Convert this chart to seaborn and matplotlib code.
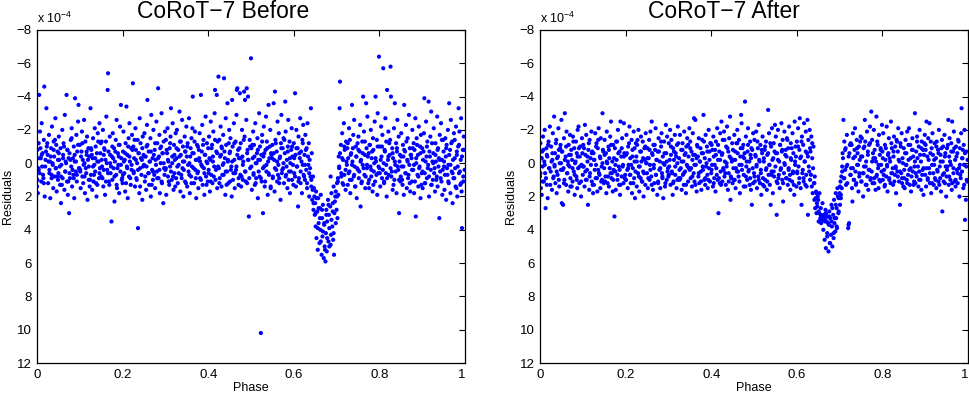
import numpy as np
import pandas as pd
import matplotlib
matplotlib.use("Agg")
import matplotlib.pyplot as plt
import seaborn as sns

# phase in 1/1000, residual in units of 1e-5
before_phase = [
    0, 1, 2, 3, 4, 5, 6, 7, 9, 10, 11, 12, 13, 15, 16, 17, 18, 20, 22, 23,
    25, 26, 28, 29, 30, 31, 33, 34, 35, 36, 38, 39, 40, 41, 43, 44, 45, 46, 48, 49,
    50, 51, 52, 54, 55, 56, 57, 59, 60, 61, 62, 64, 65, 66, 67, 69, 70, 71, 72, 74,
    75, 76, 77, 79, 80, 81, 82, 84, 85, 86, 87, 88, 89, 91, 92, 93, 94, 96, 97, 98,
    100, 101, 102, 104, 105, 106, 107, 108, 110, 111, 112, 113, 115, 116, 117, 118, 120, 121, 122, 124,
    125, 126, 127, 129, 130, 131, 132, 134, 135, 136, 137, 139, 140, 141, 142, 144, 145, 146, 147, 149,
    150, 151, 152, 154, 155, 156, 157, 159, 160, 161, 162, 164, 165, 166, 167, 169, 170, 171, 172, 174,
    175, 176, 177, 179, 180, 181, 182, 184, 185, 186, 187, 189, 190, 191, 192, 194, 195, 196, 197, 199,
    200, 201, 202, 204, 205, 206, 207, 209, 210, 211, 212, 214, 215, 216, 217, 219, 220, 221, 222, 224,
    225, 226, 227, 229, 230, 231, 232, 234, 235, 236, 237, 239, 240, 241, 242, 244, 245, 246, 247, 249,
    250, 251, 252, 254, 255, 256, 257, 258, 260, 261, 262, 264, 265, 266, 267, 269, 270, 271, 272, 274,
    275, 276, 277, 279, 280, 281, 283, 284, 285, 286, 287, 289, 290, 291, 292, 294, 295, 296, 297, 299,
    300, 301, 302, 304, 305, 306, 307, 309, 310, 311, 312, 313, 315, 316, 317, 319, 320, 321, 322, 324,
    325, 326, 327, 329, 330, 331, 333, 334, 335, 336, 337, 339, 340, 341, 342, 344, 345, 346, 347, 349,
    350, 351, 352, 354, 355, 356, 357, 359, 360, 361, 362, 363, 364, 366, 367, 369, 370, 371, 372, 374,
    375, 376, 377, 379, 380, 381, 383, 384, 385, 386, 387, 389, 390, 391, 392, 394, 395, 396, 397, 399,
    400, 401, 402, 404, 405, 406, 407, 409, 410, 411, 412, 414, 415, 416, 417, 419, 420, 421, 422, 424,
    425, 426, 427, 429, 430, 431, 432, 434, 435, 436, 437, 439, 440, 441, 442, 444, 445, 446, 447, 449,
    450, 451, 452, 454, 455, 456, 457, 459, 460, 461, 462, 464, 465, 466, 467, 468, 470, 471, 472, 474,
    475, 476, 477, 479, 480, 481, 482, 484, 485, 486, 487, 489, 490, 491, 492, 493, 494, 495, 497, 498,
    500, 501, 502, 504, 505, 506, 507, 509, 510, 511, 512, 514, 515, 516, 517, 519, 520, 521, 523, 524,
    525, 526, 528, 529, 530, 531, 532, 534, 535, 536, 537, 539, 540, 541, 542, 544, 545, 546, 547, 549,
    550, 551, 553, 554, 555, 556, 557, 559, 560, 561, 562, 564, 565, 566, 567, 569, 570, 571, 572, 574,
    575, 576, 577, 579, 580, 581, 582, 584, 585, 586, 587, 589, 590, 591, 592, 594, 595, 596, 597, 599,
    600, 601, 603, 604, 605, 606, 607, 609, 610, 611, 612, 614, 615, 616, 617, 619, 620, 621, 622, 624,
    625, 626, 627, 629, 630, 631, 632, 634, 635, 636, 637, 639, 640, 641, 642, 643, 645, 646, 647, 649,
    650, 651, 652, 653, 655, 656, 657, 658, 660, 661, 662, 663, 665, 666, 667, 668, 670, 671, 672, 674,
    675, 676, 677, 678, 680, 681, 682, 683, 685, 686, 687, 688, 690, 691, 692, 693, 694, 695, 697, 698,
    700, 701, 702, 703, 704, 705, 706, 707, 708, 710, 711, 713, 714, 715, 717, 718, 719, 721, 722, 724,
    725, 726, 727, 729, 730, 731, 732, 734, 735, 736, 737, 739, 740, 741, 742, 744, 745, 746, 747, 749,
    750, 751, 752, 754, 755, 756, 757, 759, 760, 761, 762, 764, 765, 766, 767, 769, 770, 771, 772, 774,
    775, 776, 777, 779, 780, 781, 782, 784, 785, 786, 787, 789, 790, 791, 792, 794, 795, 796, 797, 799,
    800, 801, 802, 804, 805, 806, 807, 809, 810, 811, 812, 814, 815, 816, 817, 818, 820, 821, 822, 824,
    825, 826, 827, 829, 830, 831, 832, 834, 835, 836, 837, 839, 840, 841, 842, 844, 845, 846, 847, 849,
    850, 851, 852, 854, 855, 856, 857, 858, 860, 861, 862, 864, 865, 866, 867, 869, 870, 871, 872, 874,
    875, 876, 877, 879, 880, 881, 882, 884, 885, 886, 887, 889, 890, 891, 892, 894, 895, 896, 897, 899,
    900, 901, 902, 904, 905, 906, 907, 909, 910, 911, 912, 914, 915, 916, 917, 919, 920, 921, 922, 924,
    925, 926, 927, 929, 930, 931, 932, 934, 935, 936, 937, 939, 940, 941, 942, 944, 945, 946, 947, 949,
    950, 951, 952, 954, 955, 956, 957, 959, 960, 961, 962, 963, 965, 966, 967, 969, 970, 971, 972, 974,
    975, 976, 977, 979, 980, 981, 982, 984, 985, 986, 987, 989, 990, 991, 992, 993, 995, 996, 997, 999,
    # denser core of the band
    1, 4, 6, 8, 11, 14, 16, 19, 21, 24, 27, 29, 32, 34, 37, 39, 42, 44, 47, 49,
    51, 53, 56, 58, 61, 63, 66, 68, 71, 73, 76, 78, 81, 83, 86, 88, 91, 93, 96, 99,
    101, 103, 106, 109, 111, 114, 116, 119, 121, 123, 126, 128, 131, 133, 136, 138, 141, 143, 146, 148,
    151, 153, 156, 158, 161, 163, 166, 168, 171, 173, 176, 178, 181, 183, 186, 188, 191, 193, 196, 198,
    201, 203, 206, 208, 211, 213, 216, 218, 221, 223, 226, 228, 231, 233, 236, 238, 241, 243, 246, 248,
    251, 253, 256, 258, 261, 263, 266, 268, 271, 273, 276, 278, 281, 283, 286, 288, 291, 293, 296, 298,
    301, 303, 306, 308, 311, 313, 316, 318, 321, 323, 326, 328, 331, 333, 336, 338, 341, 343, 346, 348,
    351, 353, 356, 358, 361, 363, 366, 368, 371, 373, 376, 378, 381, 383, 386, 388, 391, 393, 396, 398,
    401, 403, 406, 408, 411, 413, 416, 418, 421, 423, 426, 428, 431, 433, 436, 438, 441, 443, 446, 448,
    451, 453, 456, 458, 461, 463, 466, 468, 471, 473, 476, 478, 481, 483, 486, 488, 491, 493, 496, 498,
    501, 503, 506, 508, 511, 513, 516, 518, 521, 523, 526, 528, 531, 533, 536, 538, 541, 543, 546, 548,
    551, 553, 556, 558, 561, 563, 566, 568, 571, 573, 576, 578, 581, 583, 586, 588, 591, 593, 596, 598,
    601, 603, 606, 608, 611, 613, 616, 618, 621, 623, 626, 628, 631, 633, 636, 638, 641, 644, 646, 648,
    651, 653, 656, 658, 661, 663, 666, 668, 671, 673, 676, 678, 681, 683, 686, 688, 691, 693, 696, 698,
    701, 703, 706, 708, 711, 713, 716, 718, 721, 723, 726, 728, 731, 733, 736, 738, 741, 743, 746, 748,
    751, 753, 756, 758, 761, 763, 766, 768, 771, 773, 776, 778, 781, 783, 786, 788, 791, 793, 796, 798,
    801, 803, 806, 808, 811, 813, 816, 818, 821, 823, 826, 828, 831, 833, 836, 838, 841, 843, 846, 848,
    851, 853, 856, 858, 861, 863, 866, 868, 871, 873, 876, 878, 881, 883, 886, 888, 891, 893, 896, 898,
    901, 903, 906, 908, 911, 913, 916, 918, 921, 923, 926, 928, 931, 933, 936, 938, 941, 943, 946, 948,
    951, 953, 956, 958, 961, 963, 966, 968, 971, 973, 976, 978, 981, 983, 986, 988, 991, 993, 996, 998,
]
before_resid = [
    14, -8, 18, 3, -12, -41, 6, -19, -3, 11, -24, 2, -6, 9, -14, -46, 20, -2, -33, -10,
    -5, 12, -17, 4, -1, 21, -9, 7, -22, 0, 15, -13, -4, 8, -27, 3, -11, 17, -7, 10,
    6, -16, -2, 13, -9, 24, 1, -20, 9, -5, -12, 16, -29, 5, -1, -41, 11, -8, 19, -3,
    30, -6, 9, -14, 2, -21, 14, -3, 7, -10, 21, -1, -39, 5, -17, 11, -7, -25, -35, 3,
    -11, 4, 15, -7, -19, 8, -2, 12, -26, 0, 18, -13, 6, -5, -16, 22, -9, 2, -4, 10,
    -33, 7, -8, 16, -3, -15, 11, 1, -21, 5, -10, 20, -6, 13, -18, -1, 9, -24, 3, -12,
    8, -13, 2, -20, 14, -5, -9, 19, -2, 11, -28, 4, -44, -54, -7, 13, -16, 0, 6, 35,
    -4, 10, -18, 3, -9, 23, -1, -14, 7, -26, 15, -6, 1, -11, 18, -22, 5, -35, -3, 9,
    12, -7, -19, 6, -2, 17, -12, -34, 2, -5, 21, -15, 8, -24, -1, 13, -9, 4, -17, -48,
    -10, 5, -3, 14, -21, -8, 9, 0, -14, 39, -6, 18, -27, 3, -12, 7, -2, 22, -16, -5,
    1, -18, 11, -4, 16, -10, -23, -38, 6, -7, 13, -1, -15, 20, -29, 4, -3, 10, -20, 7,
    -8, 15, -2, -25, 5, -12, -45, 9, -4, -17, 18, 0, -10, -30, 12, -6, 24, -13, 3, -19,
    4, -14, 19, -6, -21, 8, -1, 13, -9, 2, -16, -33, 10, -4, -24, 16, -11, 6, -2, -18,
    9, -3, -20, 12, -8, 1, -31, -13, 17, -5, 7, -26, 3, -10, 20, -1, -16, 11, -7, -22,
    -4, 14, -12, 5, -27, 0, 18, -9, 8, -15, 2, -21, -40, -6, 12, -19, 4, -2, 21, -11,
    6, -10, 15, -3, -18, 9, -41, 1, -7, -23, 13, -14, 3, 19, -5, -28, 8, -1, -12, 11,
    -9, 4, -16, 17, -2, -25, 7, -11, 12, -4, -19, 2, -30, -44, 10, -7, -41, 15, -13, -52,
    3, -14, 9, -22, -5, 14, -9, 1, -17, 7, -51, -3, 19, -27, -11, 5, -36, -1, 12, -20,
    -6, 11, -15, 2, 20, -38, -10, 6, -24, -2, 15, -13, 4, -29, -44, -45, -8, 9, -3, -42,
    7, -12, 14, -20, -4, 10, -1, -43, -16, -38, 5, -26, -45, 12, -8, -40, -2, 32, -14, 3,
    -63, -9, 16, -3, -19, 6, -11, 13, -24, 0, 9, -6, -15, 21, -2, -30, 8, -10, 102, -5,
    11, -17, 30, -4, -22, 2, 14, -8, -28, 5, -13, 19, -1, -35, 7, -10, -20, 15, -6, -3,
    -11, 8, -36, -2, 17, -43, -14, 4, -7, 11, -25, 1, -18, 9, -3, 22, -12, -29, 6, -9,
    3, -15, 12, -6, -37, -19, 7, -2, 15, -10, -26, 5, -13, 18, 0, -8, -21, 10, -4, 13,
    -12, 6, -42, -5, 14, -20, 2, -9, 26, -16, 9, -3, -27, 12, -7, 18, -14, 1, -23, 8,
    -5, 10, -17, 4, -9, 15, -24, 1, -12, 20, -2, 8, -33, 14, -6, 22, 8, 28, 15, 31,
    24, 38, 17, 45, 29, 52, 21, 36, 48, 27, 40, 19, 55, 33, 44, 25, 57, 37, 50, 59,
    42, 28, 53, 35, 22, 47, 31, 50, 26, 8, 43, 18, 38, 24, 46, 14, 55, 30, 20, 36,
    28, 12, 33, 9, 19, -4, 3, -33, -49, -11, 6, -18, 12, -2, -24, 7, -8, 16, -13, 1,
    -9, 13, -3, -21, 5, -14, 18, -6, 10, -35, -1, -17, 8, -26, 2, 14, -10, -4, 21, -12,
    4, -16, 9, -7, -23, 26, -2, 11, -13, 1, -40, -19, 7, -5, 15, -36, -9, 3, -28, 12,
    -6, 15, -11, 2, -20, 8, -3, 17, -15, -8, 5, -25, 11, -40, -1, -14, 19, -30, 6, -64,
    3, -10, 14, -22, -4, 9, -17, -57, 0, 12, -8, -27, 6, -13, 20, -44, -2, -19, 7, -5,
    -14, -58, -40, 5, -9, 16, -3, -21, 10, -36, 1, -12, 18, -7, -26, 4, -16, 30, -1, 11,
    8, -18, 2, 13, -11, -4, 19, -35, -7, 6, -23, 15, -2, -15, 9, -29, 1, -9, 17, -5,
    -3, 11, -20, 4, -12, 18, -8, -27, 32, 0, -15, 7, -5, 14, -22, 2, -10, 21, -17, 6,
    -9, 15, -2, -18, -39, 6, 12, -25, -4, 9, -13, 1, -37, 20, -7, -16, 4, -31, 13, -1,
    10, -6, -21, 3, 17, -12, -1, 8, -28, 14, -9, -3, 33, -17, 5, -24, 11, -2, 19, -14,
    -7, 2, 16, -15, -4, 22, -11, 7, -20, 1, 12, -36, -8, 18, -26, 5, -13, 24, -2, -18,
    9, -14, 3, -22, 15, -5, 20, -10, -33, 6, -19, 13, -2, -27, 17, 39, -8, 11, -16, 4,
    # denser core of the band
    10, 4, -3, -9, -5, 7, 12, 2, -7, -12, -1, 6, -4, 9, 1, -8, -14, 3, 8, -2,
    -6, 2, 8, 13, -3, -10, 5, 0, -8, 11, 6, -2, -15, 4, 9, -5, -1, 7, -11, 3,
    5, -4, -12, 1, 8, 3, -7, -2, 10, 14, -9, -5, 2, 7, -3, 12, -1, -13, 6, -6,
    -2, 9, 4, -8, -13, 0, 6, 11, -5, 2, -10, -3, 8, -7, 13, 3, -4, -11, 1, 10,
    7, -1, -6, 12, 3, -10, -4, 9, 1, -8, 6, -14, -2, 10, 4, -6, 14, -3, -9, 2,
    -4, 8, 2, -11, 6, -1, -7, 13, 5, -5, -12, 1, 9, -3, 4, -9, 11, -6, 0, 7,
    3, -8, -2, 11, -12, 5, 0, 8, -5, 14, -9, 2, 6, -4, -13, 9, -1, 4, -7, 12,
    -10, 1, 7, -4, 12, -6, 3, -13, 9, -2, 5, -8, -1, 10, 2, -11, 6, -5, 13, 0,
    6, -3, 11, -9, -1, 8, -14, 4, -6, 2, 12, -4, -10, 7, 0, -7, 5, 13, -2, -12,
    -7, 4, -1, 10, -12, 6, 2, -5, 13, -9, -3, 8, 1, -14, 5, 11, -6, -2, 9, -10,
    2, -11, 7, -4, 12, 0, -8, 5, -2, 9, -13, 3, -6, 11, 1, -9, 6, -3, 14, -5,
    9, -6, 3, -12, -1, 7, 12, -4, -9, 4, 0, -14, 8, 2, -7, 10, -3, 5, -10, 1,
    -3, 8, -9, 2, 11, -6, 5, -1, -12, 7, 1, -8, 12, -4, 6, 3, 10, 16, 24, 20,
    30, 21, 39, 27, 33, 47, 28, 41, 36, 52, 31, 45, 25, 39, 49, 34, 29, 42, 23, 17,
    20, 11, 2, -6, 8, -3, 13, -10, 4, -1, -12, 6, 10, -5, 1, -9, 7, 14, -4, 3,
    -8, 5, -1, 12, -6, 3, -13, 8, 1, -4, 10, -11, 4, -7, 13, 0, -3, 7, -10, 2,
    6, -2, -10, 4, 11, -7, 1, 9, -4, -12, 3, 8, -6, 13, -1, 5, -9, 2, 10, -5,
    -4, 10, 2, -8, 6, -13, -1, 7, 12, -5, 4, -9, 1, 11, -3, -11, 8, 3, -6, 13,
    5, -7, 12, -1, -10, 3, 8, -4, 13, -12, 0, 6, -5, 10, -8, 2, -2, 9, -14, 4,
    -1, 7, -9, 3, 11, -5, 1, -12, 6, 9, -3, 14, -7, 2, -11, 5, 12, -4, 8, -8,
]

after_phase = [
    0, 1, 2, 3, 4, 5, 6, 7, 9, 10, 11, 12, 13, 15, 16, 17, 18, 20, 22, 23,
    25, 26, 28, 29, 30, 31, 33, 34, 35, 36, 38, 39, 40, 41, 43, 44, 45, 46, 48, 49,
    50, 51, 52, 54, 55, 56, 57, 58, 60, 61, 62, 64, 65, 66, 67, 69, 70, 71, 72, 74,
    75, 76, 77, 79, 80, 81, 82, 84, 85, 86, 87, 88, 89, 90, 92, 93, 94, 96, 97, 98,
    100, 101, 102, 104, 105, 106, 107, 108, 110, 111, 112, 113, 115, 116, 117, 118, 120, 121, 122, 124,
    125, 126, 127, 129, 130, 131, 132, 134, 135, 136, 137, 139, 140, 141, 142, 144, 145, 146, 147, 149,
    150, 151, 152, 154, 155, 156, 157, 159, 160, 161, 162, 164, 165, 166, 167, 169, 170, 171, 172, 174,
    175, 176, 177, 179, 180, 181, 182, 184, 185, 186, 187, 188, 190, 191, 192, 194, 195, 196, 197, 199,
    200, 201, 202, 204, 205, 206, 207, 209, 210, 211, 212, 214, 215, 216, 217, 219, 220, 221, 222, 224,
    225, 226, 227, 229, 230, 231, 232, 234, 235, 236, 237, 239, 240, 241, 242, 244, 245, 246, 247, 249,
    250, 251, 252, 254, 255, 256, 257, 258, 260, 261, 262, 264, 265, 266, 267, 269, 270, 271, 272, 274,
    275, 276, 277, 279, 280, 281, 283, 284, 285, 286, 287, 288, 290, 291, 292, 294, 295, 296, 297, 299,
    300, 301, 302, 304, 305, 306, 307, 309, 310, 311, 312, 313, 315, 316, 317, 319, 320, 321, 322, 324,
    325, 326, 327, 329, 330, 331, 333, 334, 335, 336, 337, 339, 340, 341, 342, 344, 345, 346, 347, 349,
    350, 351, 352, 354, 355, 356, 357, 359, 360, 361, 362, 363, 364, 366, 367, 369, 370, 371, 372, 374,
    375, 376, 377, 379, 380, 381, 382, 384, 385, 386, 387, 389, 390, 391, 392, 394, 395, 396, 397, 399,
    400, 401, 402, 404, 405, 406, 407, 409, 410, 411, 412, 414, 415, 416, 417, 419, 420, 421, 422, 424,
    425, 426, 427, 429, 430, 431, 432, 434, 435, 436, 437, 439, 440, 441, 442, 444, 445, 446, 447, 449,
    450, 451, 452, 454, 455, 456, 457, 459, 460, 461, 462, 464, 465, 466, 467, 469, 470, 471, 472, 474,
    475, 476, 477, 479, 480, 481, 482, 484, 485, 486, 487, 489, 490, 491, 492, 493, 494, 495, 497, 498,
    500, 501, 502, 504, 505, 506, 507, 509, 510, 511, 512, 514, 515, 516, 517, 519, 520, 521, 523, 524,
    525, 526, 528, 529, 530, 531, 533, 534, 535, 536, 537, 539, 540, 541, 542, 544, 545, 546, 547, 549,
    550, 551, 553, 554, 555, 556, 557, 559, 560, 561, 562, 564, 565, 566, 567, 568, 570, 571, 572, 574,
    575, 576, 577, 579, 580, 581, 582, 584, 585, 586, 587, 589, 590, 591, 592, 594, 595, 596, 597, 599,
    600, 601, 603, 604, 605, 606, 607, 609, 610, 611, 612, 614, 615, 616, 617, 619, 620, 621, 622, 624,
    625, 626, 627, 629, 630, 631, 632, 634, 635, 636, 637, 639, 640, 641, 642, 643, 645, 646, 647, 649,
    650, 651, 652, 653, 655, 656, 657, 658, 660, 661, 662, 663, 665, 666, 667, 668, 670, 671, 672, 674,
    675, 676, 677, 678, 680, 681, 682, 683, 685, 686, 687, 688, 690, 691, 692, 693, 694, 695, 697, 698,
    700, 701, 702, 703, 704, 705, 706, 707, 709, 710, 711, 713, 714, 715, 717, 718, 720, 721, 722, 724,
    725, 726, 727, 729, 730, 731, 732, 734, 735, 736, 737, 739, 740, 741, 742, 744, 745, 746, 747, 749,
    750, 751, 752, 754, 755, 756, 757, 759, 760, 761, 762, 764, 765, 766, 767, 769, 770, 771, 772, 774,
    775, 776, 777, 779, 780, 781, 782, 784, 785, 786, 787, 789, 790, 791, 792, 794, 795, 796, 797, 799,
    800, 801, 802, 804, 805, 806, 807, 809, 810, 811, 812, 814, 815, 816, 817, 819, 820, 821, 822, 824,
    825, 826, 827, 829, 830, 831, 832, 834, 835, 836, 837, 839, 840, 841, 842, 844, 845, 846, 847, 849,
    850, 851, 852, 854, 855, 856, 857, 858, 860, 861, 862, 864, 865, 866, 867, 869, 870, 871, 872, 874,
    875, 876, 877, 879, 880, 881, 882, 884, 885, 886, 887, 889, 890, 891, 892, 894, 895, 896, 897, 899,
    900, 901, 902, 903, 905, 906, 907, 909, 910, 911, 912, 914, 915, 916, 917, 919, 920, 921, 922, 924,
    925, 926, 927, 929, 930, 931, 932, 934, 935, 936, 937, 939, 940, 941, 942, 944, 945, 946, 947, 949,
    950, 951, 952, 954, 955, 956, 957, 959, 960, 961, 962, 963, 965, 966, 967, 969, 970, 971, 972, 974,
    975, 976, 977, 979, 980, 981, 982, 984, 985, 986, 987, 989, 990, 991, 992, 993, 995, 996, 997, 999,
    # denser core of the band
    1, 4, 6, 8, 11, 14, 16, 19, 21, 24, 27, 29, 32, 34, 37, 39, 42, 44, 47, 49,
    51, 53, 56, 58, 61, 63, 66, 68, 71, 73, 76, 78, 81, 83, 86, 88, 91, 93, 96, 99,
    101, 103, 106, 109, 111, 114, 116, 119, 121, 123, 126, 128, 131, 133, 136, 138, 141, 143, 146, 148,
    151, 153, 156, 158, 161, 163, 166, 168, 171, 173, 176, 178, 181, 183, 186, 188, 191, 193, 196, 198,
    201, 203, 206, 208, 211, 213, 216, 218, 221, 223, 226, 228, 231, 233, 236, 238, 241, 243, 246, 248,
    251, 253, 256, 258, 261, 263, 266, 268, 271, 273, 276, 278, 281, 283, 286, 288, 291, 293, 296, 298,
    301, 303, 306, 308, 311, 313, 316, 318, 321, 323, 326, 328, 331, 333, 336, 338, 341, 343, 346, 348,
    351, 353, 356, 358, 361, 363, 366, 368, 371, 373, 376, 378, 381, 383, 386, 388, 391, 393, 396, 398,
    401, 403, 406, 408, 411, 413, 416, 418, 421, 423, 426, 428, 431, 433, 436, 438, 441, 443, 446, 448,
    451, 453, 456, 458, 461, 463, 466, 468, 471, 473, 476, 478, 481, 483, 486, 488, 491, 493, 496, 498,
    501, 503, 506, 508, 511, 513, 516, 518, 521, 523, 526, 528, 531, 533, 536, 538, 541, 543, 546, 548,
    551, 553, 556, 558, 561, 563, 566, 568, 571, 573, 576, 578, 581, 583, 586, 588, 591, 593, 596, 598,
    601, 603, 606, 608, 611, 613, 616, 618, 621, 623, 626, 628, 631, 633, 636, 638, 641, 644, 646, 648,
    651, 653, 656, 658, 661, 663, 666, 668, 671, 673, 676, 678, 681, 683, 686, 688, 691, 693, 696, 698,
    701, 703, 706, 708, 711, 713, 716, 718, 721, 723, 726, 728, 731, 733, 736, 738, 741, 743, 746, 748,
    751, 753, 756, 758, 761, 763, 766, 768, 771, 773, 776, 778, 781, 783, 786, 788, 791, 793, 796, 798,
    801, 803, 806, 808, 811, 813, 816, 818, 821, 823, 826, 828, 831, 833, 836, 838, 841, 843, 846, 848,
    851, 853, 856, 858, 861, 863, 866, 868, 871, 873, 876, 878, 881, 883, 886, 888, 891, 893, 896, 898,
    901, 903, 906, 908, 911, 913, 916, 918, 921, 923, 926, 928, 931, 933, 936, 938, 941, 943, 946, 948,
    951, 953, 956, 958, 961, 963, 966, 968, 971, 973, 976, 978, 981, 983, 986, 988, 991, 993, 996, 998,
]
after_resid = [
    8, -12, 15, -3, 19, -7, 2, -16, 11, -1, -20, 6, 27, -9, 13, -4, 21, -13, 3, -22,
    5, -10, 16, -2, -18, 9, -28, 1, -6, 12, -14, 18, -3, 7, -21, -8, 14, 0, -11, 4,
    -26, 24, -7, 25, 3, -15, 10, -30, -4, 13, -19, 6, -1, 17, -11, 2, -17, 9, -5, 14,
    -2, 11, -16, 5, -9, 19, 0, -13, 8, -6, 15, -20, 3, -22, 12, -4, -10, 20, 1, -15,
    7, -11, 2, 14, -23, -5, 10, -17, 4, -1, 25, -8, 16, -14, 6, -3, -19, 11, -7, 18,
    -6, 13, -2, -18, 9, 1, -12, 17, -9, 4, -21, 7, -4, 15, -15, 2, 10, -30, -8, 12,
    3, -14, 11, -6, 18, -19, 0, 8, -10, 14, -3, -16, 6, -25, 9, -1, 17, -11, 4, 32,
    -9, 5, 16, -2, -13, 10, -20, 2, 13, -7, 19, -25, -4, 8, -15, 1, 12, -24, -6, 7,
    10, -5, -17, 4, 15, -10, 1, -22, 7, -3, 12, -14, 18, -8, 3, -19, 9, -1, 21, -12,
    -4, 14, -11, 6, -20, 2, 17, -7, 9, -16, -1, 11, -13, 5, 20, -9, -2, 13, -18, 0,
    6, -9, 15, -3, -14, 10, 1, -19, 8, -25, -6, 16, -11, 3, 12, -8, -21, 7, -2, 19,
    -7, 12, -15, 4, -1, 15, -10, -18, 6, 9, -4, 21, -13, 1, 14, -23, -6, 10, -16, 3,
    8, -12, 2, -20, 13, -5, -14, 6, 19, -9, 11, -2, -17, 7, -6, 15, -11, 0, -22, 9,
    -3, 10, -17, 3, -8, 16, -12, 7, -1, 13, -19, 5, -6, 18, -10, -15, 2, 11, -4, -21,
    4, -13, 9, -7, 14, -2, -18, 6, -27, 11, -5, -26, 1, 17, -11, -4, 8, -15, 12, -1,
    -9, 5, 16, -14, 2, -6, -29, 10, -3, 13, -17, 0, -10, 7, 15, -20, 3, -7, 11, -12,
    6, -11, 1, 14, -16, -4, 9, -8, 17, -13, 3, -21, 10, -2, 30, -7, 12, -18, 5, -25,
    -5, 11, -14, 4, -19, 8, -1, 13, -10, 2, -22, 16, -7, 6, -15, -28, 22, -3, 9, -12,
    12, -8, 3, -17, 10, -2, 15, -12, 5, -20, -6, 8, -14, 1, 18, -9, -29, -24, 4, -4,
    -11, 7, -3, -37, 14, -16, 2, 10, -7, -21, 5, -1, 13, -13, -5, 16, -9, 25, 3, -18,
    6, -14, 11, -4, -19, 1, 15, -9, 8, -23, -2, 12, -11, 4, 19, -6, -16, 9, -1, 14,
    -8, 10, -13, 3, 16, -5, -32, 7, -18, 1, 13, 25, -10, 5, -21, 18, -3, -12, 8, -23,
    2, -16, 31, -6, 12, -20, 9, -1, 15, -11, 4, -24, -7, 10, -14, 23, 6, -19, 1, -8,
    9, -4, -15, 13, -9, 3, -22, 7, 16, -12, -2, 11, -18, 5, -6, 19, -25, 1, -10, 14,
    -13, 6, -21, 2, 12, -8, -27, 15, -4, 25, -16, 4, -11, 9, -24, -1, 13, -19, 7, -6,
    -26, 31, -14, 5, -20, 10, -7, -16, 14, -3, 18, -10, 12, 22, 8, 27, 17, 30, 24, 20,
    22, 35, 30, 18, 33, 27, 36, 32, 24, 34, 40, 31, 46, 33, 28, 51, 35, 42, 32, 53,
    37, 29, 48, 33, 43, 25, 38, 50, 31, 45, 22, 36, 41, 18, 33, 27, 39, 15, 30, 21,
    18, 25, 11, 21, 8, 15, 2, -6, -26, 9, -13, 4, -9, 13, -17, 1, 39, -4, 36, -11,
    7, -12, 3, 15, 23, -18, -3, 10, -8, -21, 5, 12, -14, 1, -6, 17, -10, 8, -2, -16,
    -4, 11, -15, 6, 20, -9, 2, -26, -13, 13, -1, -19, 8, -5, 16, -11, 4, -22, 10, -31,
    5, -14, 12, -3, -20, 9, -8, 16, -1, -28, 7, -11, 3, 15, -17, -5, 11, -9, 1, -23,
    -7, 10, -18, 4, 14, -11, -2, 8, -22, 1, 17, -6, -15, 9, -3, 12, -25, 6, -9, 3,
    13, -4, -16, 7, -10, 2, 18, -13, 5, -7, -21, 11, -1, 25, -12, 6, -18, 9, -3, 14,
    -9, 4, 15, -14, 1, -6, 10, -19, 7, -2, -21, 13, -11, 3, 17, -8, -15, 5, -4, 11,
    2, -30, 12, -7, 8, -16, -3, 14, -10, 5, -20, 10, -1, 16, -13, 4, -8, 19, -5, -17,
    7, -11, 14, -25, -4, 9, -15, 3, -24, 12, -6, 18, -9, 1, -18, 6, 13, -2, -12, 10,
    -3, 15, -13, 5, -8, 11, -20, 2, 9, -5, 17, -14, 29, -1, -10, 6, -17, 12, -6, 20,
    8, -9, 2, -26, 13, -4, -15, 10, 1, -12, 16, -25, -7, 6, -19, 11, -2, 14, -10, 4,
    -6, 12, -14, 3, 20, -9, 7, -18, -33, 5, -3, 15, -11, 1, -20, 34, 22, -7, 10, -2,
    # denser core of the band
    6, -3, 11, -8, 1, 9, -5, -11, 3, 13, -1, -6, 8, 2, -12, 5, -4, 10, -9, 0,
    -7, 4, 12, -2, -10, 6, 1, -5, 14, -8, 3, -13, 7, -1, 10, -4, -9, 2, 11, -6,
    2, -9, 5, 10, -4, -12, 8, 1, -6, 13, -2, 4, -10, 9, -14, 6, -3, 11, 0, -7,
    -5, 8, -1, 12, -8, 3, -11, 6, 10, -3, 1, -13, 7, -6, 4, 13, -9, 2, -4, 9,
    10, -6, 3, -12, 7, 1, -4, 12, -9, 5, -1, -14, 8, 2, -7, 11, -3, 6, -10, 0,
    -3, 9, -8, 4, 13, -5, 1, -11, 7, -2, 11, -7, 3, -13, 8, 0, -6, 12, -1, 5,
    7, -2, -10, 5, 12, -7, 2, -4, 10, -12, 4, 9, -1, -8, 6, -5, 13, 1, -11, 3,
    -9, 3, 8, -5, 1, 13, -3, -10, 6, -1, 11, -6, 4, -13, 9, 2, -7, 10, -2, -12,
    4, -8, 12, 1, -5, 7, -11, 9, -2, 13, -6, 3, -14, 6, 0, -9, 11, -4, 8, -1,
    -2, 10, -7, 3, -12, 5, 11, -4, 1, -9, 14, -6, 8, -1, -11, 4, 9, -3, -8, 12,
    8, -5, 2, -13, 10, -1, 6, -8, 13, -3, -10, 4, 11, -6, 1, -12, 7, -2, 5, -7,
    -6, 11, -2, 7, -11, 3, -8, 12, 0, -5, 9, -14, 4, 10, -3, -9, 6, 13, -1, -4,
    5, -10, 9, -3, -13, 6, 11, -1, -7, 14, -4, 2, -9, 7, -12, 3, 12, 21, 18, 26,
    29, 35, 31, 33, 34, 32, 35, 30, 44, 36, 32, 48, 35, 27, 42, 33, 25, 38, 20, 29,
    14, 19, 5, -3, 9, -8, 2, 12, 37, -6, 7, -11, 3, 10, -4, 13, -9, 1, 6, -13,
    11, -4, 6, -10, 2, 13, -7, 4, -12, 9, -1, -6, 12, -3, 8, -13, 1, 10, -8, 5,
    -3, 7, 13, -9, 2, -5, 10, -1, -12, 6, -7, 11, 3, -14, 8, -2, 5, -10, 12, 0,
    9, -6, 1, 12, -11, 4, -3, 8, -8, 13, -1, 6, -13, 2, 10, -5, -9, 7, 3, -12,
    -8, 3, 10, -2, 6, -13, 12, -5, 1, 9, -10, 4, -6, 13, -1, -9, 7, 11, -4, 2,
    4, -11, 8, -1, -7, 12, 3, -9, 10, -4, 6, -13, 1, 9, -3, -8, 13, -6, 2, 11,
]

titles = ["CoRoT\u22127 Before", "CoRoT\u22127 After"]
y_ticks = [-8, -6, -4, -2, 0, 2, 4, 6, 8, 10, 12]
x_ticks = [0, 0.2, 0.4, 0.6, 0.8, 1]
x_ticklabels = ["0", "0.2", "0.4", "0.6", "0.8", "1"]


def to_frame(phase, resid):
    n = min(len(phase), len(resid))
    return pd.DataFrame({
        "Phase": np.array(phase[:n]) / 1000.0,
        "Residuals": np.array(resid[:n]) / 10.0,  # in units of 1e-4
    })


sns.set_theme(style="white")
plt.rcParams["font.family"] = ["Liberation Sans", "DejaVu Sans"]
plt.rcParams["mathtext.fontset"] = "custom"
plt.rcParams["mathtext.rm"] = "Liberation Sans"
plt.rcParams["mathtext.it"] = "Liberation Sans"
for key in ["text.color", "axes.labelcolor", "xtick.color", "ytick.color"]:
    plt.rcParams[key] = "black"

fig = plt.figure(figsize=(9.7, 3.95), dpi=100)
ax_left = fig.add_axes([37 / 970, 32 / 395, 428 / 970, 333 / 395])
ax_right = fig.add_axes([540 / 970, 32 / 395, 428 / 970, 333 / 395])

# MATLAB put the titles a little left of centre
panels = [
    (ax_left, to_frame(before_phase, before_resid), titles[0], 0.436),
    (ax_right, to_frame(after_phase, after_resid), titles[1], 0.429),
]

for ax, df, title, title_x in panels:
    sns.scatterplot(data=df, x="Phase", y="Residuals", ax=ax,
                    color="#0000ff", s=9, linewidth=0, edgecolor="none")
    ax.set_xlim(0, 1)
    ax.set_ylim(12, -8)
    ax.set_xticks(x_ticks)
    ax.set_xticklabels(x_ticklabels)
    ax.get_xticklabels()[-1].set_horizontalalignment("right")
    ax.set_yticks(y_ticks)
    ax.set_yticklabels([str(t) if t >= 0 else "\u2212" + str(-t) for t in y_ticks])
    ax.tick_params(direction="in", length=4, width=0.8, labelsize=9.5,
                   top=True, right=True, color="black", pad=4)
    for sp in ax.spines.values():
        sp.set_color("black")
        sp.set_linewidth(0.9)
    ax.set_title(title, fontsize=16.5, pad=9, x=title_x)
    ax.set_xlabel("Phase", fontsize=9, labelpad=1)
    ax.set_ylabel("Residuals", fontsize=9, labelpad=2)
    ax.text(0, 1.012, r"x 10$^{-4}$", transform=ax.transAxes,
            fontsize=9, ha="left", va="bottom")

fig.savefig("out.png", dpi=100)
